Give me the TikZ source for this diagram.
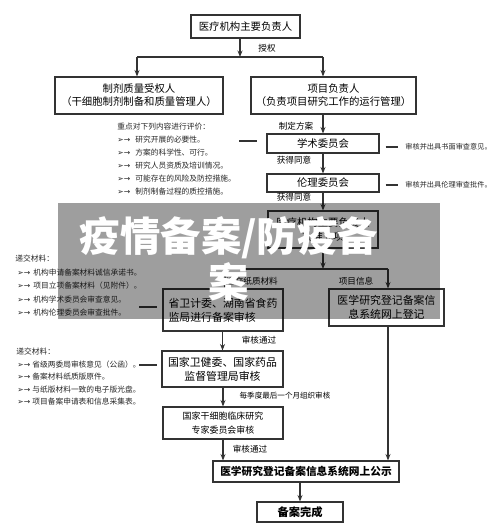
\documentclass[tikz,border=0pt]{standalone}
\usepackage{fontspec}
\usetikzlibrary{arrows.meta}
\newfontfamily\cjk{Noto Sans CJK SC}
\newfontfamily\symfont{DejaVu Sans}
\newcommand{\bl}[1]{\makebox[#1][l]{\symfont ➢→}}

\begin{document}
\begin{tikzpicture}[
    x=.02cm,y=-.02cm,
    box/.style={draw=black!80,line width=.6pt,inner sep=0pt,align=center,font=\cjk\fontsize{5.9}{7.5}\selectfont},
    big/.style={font=\cjk\fontsize{6.2}{8}\selectfont},
    e/.style={-{Stealth[length=1.3mm,width=1mm]},line width=.6pt,black!80},
    ln/.style={line width=.6pt,black!80},
    lab/.style={inner sep=0pt,font=\cjk\fontsize{4.9}{6}\selectfont},
    note/.style={anchor=west,inner sep=0pt,black!85,font=\cjk\fontsize{4.4}{5}\selectfont}
  ]
    \useasboundingbox (0,0) rectangle (500,526);
    % boxes
    \node[box,minimum width=2.18cm,minimum height=.46cm] (head) at (245.5,26.5) {医疗机构主要负责人};
    \node[box,minimum width=3.36cm,minimum height=.74cm] (zhiji) at (139,95.5) {制剂质量受权人\\（干细胞制剂制备和质量管理人）};
    \node[box,minimum width=3.3cm,minimum height=.74cm] (xiangmu) at (333.5,95.5) {项目负责人\\（负责项目研究工作的运行管理）};
    \node[box,minimum width=2.24cm,minimum height=.38cm] (xueshu) at (323,143.5) {学术委员会};
    \node[box,minimum width=2.24cm,minimum height=.36cm] (lunli) at (323,183) {伦理委员会};
    \node[box,minimum width=2.2cm,minimum height=.74cm] (pizhun) at (323,229.5) {医疗机构主要负责人\\批准立项};
    \node[box,big,align=left,minimum width=2.4cm,minimum height=.84cm] (shengwei) at (223,310) {省卫计委、湖南省食药\\监局进行备案审核};
    \node[box,big,minimum width=2.3cm,minimum height=.74cm] (dengji) at (386.5,307.5) {医学研究登记备案信\\息系统网上登记};
    \node[box,big,minimum width=2.42cm,minimum height=.72cm] (weijian) at (222.5,369) {国家卫健委、国家药品\\监督管理局审核};
    \node[box,font=\cjk\fontsize{5.1}{8}\selectfont,minimum width=2.4cm,minimum height=.64cm] (zhuanjia) at (223,423) {国家干细胞临床研究\\专家委员会审核};
    \node[box,font=\cjk\bfseries\fontsize{6.1}{8}\selectfont,minimum width=3.72cm,minimum height=.42cm] (gongshi) at (306,471.5) {医学研究登记备案信息系统网上公示};
    \node[box,font=\cjk\bfseries\fontsize{6.4}{8}\selectfont,minimum width=1.72cm,minimum height=.4cm] (wancheng) at (300,512) {备案完成};

    % connectors
    \coordinate (j1) at (240,57); \coordinate (jl) at (137,57); \coordinate (jr) at (323,57);
    \draw[e] (head.south -| j1) -- (j1);
    \draw[ln] (jl) -- (jr);
    \draw[e] (jl) -- (jl |- zhiji.north);
    \draw[e] (jr) -- (jr |- xiangmu.north);
    \foreach \s/\t in {xiangmu/xueshu,xueshu/lunli,lunli/pizhun,shengwei/weijian,weijian/zhuanjia,gongshi/wancheng} {\draw[e] (\t.north |- \s.south)--(\t.north);}
    \coordinate (j2) at (323,269); \coordinate (j2l) at (225,269); \coordinate (j2r) at (388,269);
    \draw[e] (pizhun.south) -- (j2);
    \draw[ln] (j2l) -- (j2r);
    \draw[e] (j2l) -- (j2l |- shengwei.north);
    \draw[e] (j2r) -- (j2r |- dengji.north);
    \draw[e] (j2r |- dengji.south) -- (j2r |- gongshi.north);
    \draw[e] (zhuanjia.south) -- (zhuanjia.south |- gongshi.north);

    % edge labels
    \node[lab] (l1) at (267,48) {授权};
    \node[lab] (l2) at (296,126) {制定方案};
    \node[lab] (l3) at (294,160) {获得同意};
    \node[lab] (l4) at (294,197) {获得同意};
    \node[lab] (l5) at (252,281) {递交纸质材料};
    \node[lab] (l6) at (356,281) {项目信息};
    \node[lab] (l7) at (259,340) {审核通过};
    \node[lab,font=\cjk\fontsize{4.3}{5}\selectfont] (l8) at (285,396) {每季度最后一个月组织审核};
    \node[lab] (l9) at (250,449) {审核通过};

    % side notes
    \node[note] (ga0) at (117,127) {重点对下列内容进行评价：};
    \foreach \t [count=\i] in {研究开展的必要性。,方案的科学性、可行。,研究人员资质及培训情况。,可能存在的风险及防控措施。,制剂制备过程的质控措施。} {\node[note] (ga\i) at (117,{127+13*\i}) {\bl{.36cm}\t};}
    \node[note] (gb0) at (15,259) {递交材料：};
    \foreach \t [count=\i] in {机构申请备案材料诚信承诺书。,项目立项备案材料（见附件）。,机构学术委员会审查意见。,机构伦理委员会审查批件。} {\node[note] (gb\i) at (17,{259+13.5*\i}) {\bl{.32cm}\t};}
    \node[note] (gc0) at (16,352) {递交材料：};
    \foreach \t [count=\i] in {省级两委局审核意见（公函）。,备案材料纸质版原件。,与纸版材料一致的电子版光盘。,项目备案申请表和信息采集表。} {\node[note] (gc\i) at (17,{352+12.5*\i}) {\bl{.3cm}\t};}
    \node[note,font=\cjk\fontsize{4.1}{5}\selectfont] (r1) at (405,147) {审核并出具书面审查意见。};
    \node[note,font=\cjk\fontsize{4.1}{5}\selectfont] (r2) at (405,185) {审核并出具伦理审查批件。};
    \draw[ln] ([shift={(-27,-2.5)}]xueshu.west) -- ([shift={(-9,-2.5)}]xueshu.west);
    \draw[ln] ([shift={(6,3.5)}]xueshu.east) -- ([shift={(18,3.5)}]xueshu.east);
    \draw[ln] ([shift={(6,2)}]lunli.east) -- ([shift={(18,2)}]lunli.east);
    \draw[ln] ([shift={(-23,-3)}]shengwei.west) -- ([shift={(-5,-3)}]shengwei.west);
    \draw[ln] ([shift={(-22,-4)}]weijian.west) -- ([shift={(-4,-4)}]weijian.west);

    % watermark band
    \fill[black,opacity=.38] (58,203) rectangle (440,319);
    \node[text=white,align=center,font=\cjk\bfseries\fontsize{23}{26}\selectfont] (mark) at (229,259) {疫情备案/防疫备\\案};
\end{tikzpicture}
\end{document}
